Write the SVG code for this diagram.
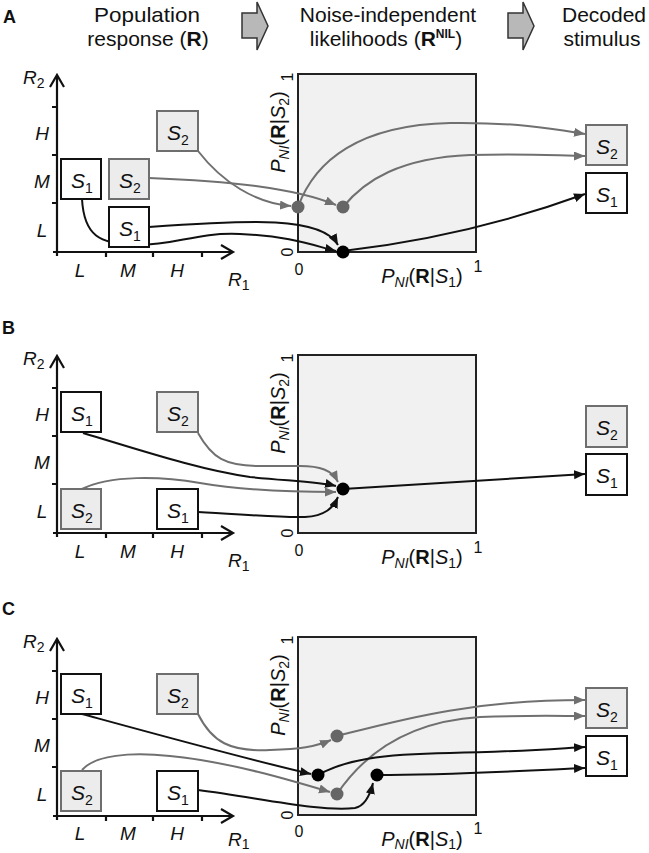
<svg xmlns="http://www.w3.org/2000/svg" width="649" height="853" viewBox="0 0 649 853">
<defs>
<style>
text{font-family:"Liberation Sans",Arial,Helvetica,sans-serif;fill:#111}
.hdr{font-size:21px;text-anchor:middle}
.pl{font-size:18px;font-weight:bold}
.ax{font-size:19px;font-style:italic;text-anchor:middle}
.axl{font-size:19px;font-style:italic}
.sb{font-size:14px;font-style:normal}
.si{font-size:14px;font-style:italic}
.axis{fill:none;stroke:#111;stroke-width:2.2}
.b1{fill:#fff;stroke:#111;stroke-width:2}
.b2{fill:#ececec;stroke:#6e6e6e;stroke-width:2}
.bl{font-size:21px;font-style:italic;text-anchor:middle}
.sq{fill:#f1f1f1;stroke:#222;stroke-width:2}
.tk{font-size:16px;text-anchor:middle}
.pn{font-size:20px;text-anchor:middle}
.blk{fill:none;stroke:#111;stroke-width:2;marker-end:url(#ab)}
.gry{fill:none;stroke:#707070;stroke-width:2;marker-end:url(#ag)}
.dg{fill:#666}
.db{fill:#000}
.ba{fill:#b8b8b8;stroke:#333;stroke-width:1.5;stroke-linejoin:miter}
</style>
<marker id="ab" markerUnits="userSpaceOnUse" markerWidth="12" markerHeight="10" refX="11" refY="4.5" orient="auto"><path d="M0,0 L11,4.5 L0,9 z" fill="#111"/></marker>
<marker id="ag" markerUnits="userSpaceOnUse" markerWidth="12" markerHeight="10" refX="11" refY="4.5" orient="auto"><path d="M0,0 L11,4.5 L0,9 z" fill="#707070"/></marker>
</defs>
<rect width="649" height="853" fill="#fff"/>

<!-- Header -->
<g id="header">
<text class="pl" x="3" y="23">A</text>
<text class="hdr" x="147" y="22" textLength="106" lengthAdjust="spacingAndGlyphs">Population</text>
<text class="hdr" x="148" y="46">response (<tspan font-weight="bold">R</tspan>)</text>
<polygon class="ba" points="242,13 257,13 257,2 268,26 257,50 257,38 242,38"/>
<text class="hdr" x="388" y="22">Noise-independent</text>
<text class="hdr" x="386" y="46">likelihoods (<tspan font-weight="bold">R</tspan><tspan font-weight="bold" font-size="12" dy="-8">NIL</tspan><tspan dy="8">)</tspan></text>
<polygon class="ba" points="508,13 523,13 523,2 534,26 523,50 523,38 508,38"/>
<text class="hdr" x="604" y="22">Decoded</text>
<text class="hdr" x="602" y="46">stimulus</text>
</g>

<text class="pl" x="2" y="334">B</text>
<text class="pl" x="2" y="615">C</text>

<!-- Axes -->
<g id="axesA">
<path class="axis" d="M57,256 V77 M53,252 H231 M52,107 H57 M52,155 H57 M52,203 H57 M106,252 V257 M153,252 V257 M202,252 V257"/>
<path class="axis" stroke-width="2.5" d="M50,87 L57,75 L64,87 M221,245 L233,252 L221,259"/>
<text class="axl" x="23" y="84">R<tspan class="sb" dy="4">2</tspan></text>
<text class="ax" x="42" y="140">H</text><text class="ax" x="42" y="188">M</text><text class="ax" x="42" y="237">L</text>
<text class="ax" x="80" y="277">L</text><text class="ax" x="128" y="277">M</text><text class="ax" x="177" y="277">H</text>
<text class="axl" x="228" y="286">R<tspan class="sb" dy="4">1</tspan></text>
</g>
<g id="axesB" transform="translate(0,281)">
<path class="axis" d="M57,256 V77 M53,252 H231 M52,107 H57 M52,155 H57 M52,203 H57 M106,252 V257 M153,252 V257 M202,252 V257"/>
<path class="axis" stroke-width="2.5" d="M50,87 L57,75 L64,87 M221,245 L233,252 L221,259"/>
<text class="axl" x="23" y="84">R<tspan class="sb" dy="4">2</tspan></text>
<text class="ax" x="42" y="140">H</text><text class="ax" x="42" y="188">M</text><text class="ax" x="42" y="237">L</text>
<text class="ax" x="80" y="277">L</text><text class="ax" x="128" y="277">M</text><text class="ax" x="177" y="277">H</text>
<text class="axl" x="228" y="286">R<tspan class="sb" dy="4">1</tspan></text>
</g>
<g id="axesC" transform="translate(0,564)">
<path class="axis" d="M57,256 V77 M53,252 H231 M52,107 H57 M52,155 H57 M52,203 H57 M106,252 V257 M153,252 V257 M202,252 V257"/>
<path class="axis" stroke-width="2.5" d="M50,87 L57,75 L64,87 M221,245 L233,252 L221,259"/>
<text class="axl" x="23" y="84">R<tspan class="sb" dy="4">2</tspan></text>
<text class="ax" x="42" y="140">H</text><text class="ax" x="42" y="188">M</text><text class="ax" x="42" y="237">L</text>
<text class="ax" x="80" y="276">L</text><text class="ax" x="128" y="276">M</text><text class="ax" x="177" y="276">H</text>
<text class="axl" x="228" y="282">R<tspan class="sb" dy="3">1</tspan></text>
</g>

<!-- Likelihood planes -->
<g id="planeA">
<rect class="sq" x="298" y="74" width="178" height="178"/>
<text class="tk" transform="translate(293,77) rotate(-90)">1</text>
<text class="tk" transform="translate(293,252) rotate(-90)">0</text>
<text class="tk" x="299" y="275">0</text>
<text class="tk" x="478" y="272">1</text>
<text class="pn" x="422" y="283"><tspan font-style="italic">P</tspan><tspan class="si" dy="4">NI</tspan><tspan dy="-4">(</tspan><tspan font-weight="bold">R</tspan>|<tspan font-style="italic">S</tspan><tspan class="sb" dy="4">1</tspan><tspan dy="-4">)</tspan></text>
<text class="pn" transform="translate(285,132) rotate(-90)"><tspan font-style="italic">P</tspan><tspan class="si" dy="4">NI</tspan><tspan dy="-4">(</tspan><tspan font-weight="bold">R</tspan>|<tspan font-style="italic">S</tspan><tspan class="sb" dy="4">2</tspan><tspan dy="-4">)</tspan></text>
</g>
<g id="planeB" transform="translate(0,281)">
<rect class="sq" x="298" y="74" width="178" height="178"/>
<text class="tk" transform="translate(293,77) rotate(-90)">1</text>
<text class="tk" transform="translate(293,252) rotate(-90)">0</text>
<text class="tk" x="299" y="275">0</text>
<text class="tk" x="478" y="272">1</text>
<text class="pn" x="422" y="283"><tspan font-style="italic">P</tspan><tspan class="si" dy="4">NI</tspan><tspan dy="-4">(</tspan><tspan font-weight="bold">R</tspan>|<tspan font-style="italic">S</tspan><tspan class="sb" dy="4">1</tspan><tspan dy="-4">)</tspan></text>
<text class="pn" transform="translate(285,132) rotate(-90)"><tspan font-style="italic">P</tspan><tspan class="si" dy="4">NI</tspan><tspan dy="-4">(</tspan><tspan font-weight="bold">R</tspan>|<tspan font-style="italic">S</tspan><tspan class="sb" dy="4">2</tspan><tspan dy="-4">)</tspan></text>
</g>
<g id="planeC" transform="translate(0,563)">
<rect class="sq" x="298" y="74" width="178" height="178"/>
<text class="tk" transform="translate(293,77) rotate(-90)">1</text>
<text class="tk" transform="translate(293,252) rotate(-90)">0</text>
<text class="tk" x="299" y="274">0</text>
<text class="tk" x="478" y="271">1</text>
<text class="pn" x="422" y="283"><tspan font-style="italic">P</tspan><tspan class="si" dy="3">NI</tspan><tspan dy="-3">(</tspan><tspan font-weight="bold">R</tspan>|<tspan font-style="italic">S</tspan><tspan class="sb" dy="3">1</tspan><tspan dy="-3">)</tspan></text>
<text class="pn" transform="translate(285,132) rotate(-90)"><tspan font-style="italic">P</tspan><tspan class="si" dy="4">NI</tspan><tspan dy="-4">(</tspan><tspan font-weight="bold">R</tspan>|<tspan font-style="italic">S</tspan><tspan class="sb" dy="4">2</tspan><tspan dy="-4">)</tspan></text>
</g>

<!-- Connectors -->
<g id="connectors">
<!-- Panel A -->
<path class="gry" d="M198,151 C222,182 255,203 291,206"/>
<path class="gry" d="M149,178 C230,181 295,188 336,205"/>
<path class="blk" d="M149,227 C250,220 322,216 338,245"/>
<path class="blk" d="M82,199 C84,236 100,244 135,245 C175,246 195,232 240,234 C290,236 315,246 336,251"/>
<path class="gry" d="M298,207 C315,160 360,125 450,123 C520,122 560,130 585,134"/>
<path class="gry" d="M343,207 C365,180 400,158 470,155 C530,153 560,156 585,156"/>
<path class="blk" d="M343,251 C420,242 500,225 585,194"/>
<!-- Panel B -->
<path class="gry" d="M198,433 C212,458 225,466 260,466 L300,466 C320,466 332,470 338,482"/>
<path class="blk" d="M83,433 C140,450 200,470 250,477 C290,481 320,482 336,486"/>
<path class="gry" d="M82,489 C110,475 160,476 200,483 C240,490 290,492 336,492"/>
<path class="blk" d="M198,512 C240,514 280,518 305,517 C325,516 333,508 338,497"/>
<path class="blk" d="M343,489 L585,474"/>
<!-- Panel C -->
<path class="gry" d="M198,714 C212,742 230,752 270,750 C300,749 315,747 331,740"/>
<path class="blk" d="M82,714 C170,738 250,760 311,774"/>
<path class="gry" d="M82,770 C95,755 130,752 170,756 C230,762 290,780 330,792"/>
<path class="blk" d="M198,790 C260,798 320,812 355,808 C365,806 370,795 373,783"/>
<path class="gry" d="M337,736 C400,720 470,700 585,700"/>
<path class="gry" d="M337,794 C360,760 400,722 480,717 C530,715 560,716 585,716"/>
<path class="blk" d="M318,775 C345,760 380,754 450,753 C510,752 550,749 585,747"/>
<path class="blk" d="M377,775 C450,775 520,771 585,768"/>
</g>

<!-- Dots -->
<g id="dotA1"><circle class="dg" cx="298" cy="207" r="6.5"/></g>
<g id="dotA2"><circle class="dg" cx="343" cy="207" r="6.5"/></g>
<g id="dotA3"><circle class="db" cx="343" cy="252" r="6.5"/></g>
<g id="dotB1"><circle class="db" cx="343" cy="489" r="6.5"/></g>
<g id="dotC1"><circle class="dg" cx="337" cy="736" r="6.5"/></g>
<g id="dotC2"><circle class="dg" cx="337" cy="794" r="6.5"/></g>
<g id="dotC3"><circle class="db" cx="318" cy="775" r="6.5"/></g>
<g id="dotC4"><circle class="db" cx="377" cy="775" r="6.5"/></g>

<!-- Panel A boxes -->
<g id="A_s1_LM"><rect class="b1" x="61" y="159" width="40" height="40"/><text class="bl" x="82" y="188">S<tspan class="sb" dy="5">1</tspan></text></g>
<g id="A_s2_MM"><rect class="b2" x="109" y="159" width="40" height="40"/><text class="bl" x="130" y="188">S<tspan class="sb" dy="5">2</tspan></text></g>
<g id="A_s1_ML"><rect class="b1" x="109" y="207" width="40" height="40"/><text class="bl" x="130" y="236">S<tspan class="sb" dy="5">1</tspan></text></g>
<g id="A_s2_HH"><rect class="b2" x="157" y="111" width="41" height="40"/><text class="bl" x="178" y="140">S<tspan class="sb" dy="5">2</tspan></text></g>
<g id="A_out_s2"><rect class="b2" x="586" y="125" width="41" height="40"/><text class="bl" x="607" y="154">S<tspan class="sb" dy="5">2</tspan></text></g>
<g id="A_out_s1"><rect class="b1" x="586" y="173" width="41" height="40"/><text class="bl" x="607" y="202">S<tspan class="sb" dy="5">1</tspan></text></g>

<!-- Panel B boxes -->
<g id="B_s1_LH"><rect class="b1" x="61" y="392" width="40" height="40"/><text class="bl" x="82" y="421">S<tspan class="sb" dy="5">1</tspan></text></g>
<g id="B_s2_HH"><rect class="b2" x="157" y="392" width="41" height="40"/><text class="bl" x="178" y="421">S<tspan class="sb" dy="5">2</tspan></text></g>
<g id="B_s2_LL"><rect class="b2" x="61" y="489" width="40" height="40"/><text class="bl" x="82" y="518">S<tspan class="sb" dy="5">2</tspan></text></g>
<g id="B_s1_HL"><rect class="b1" x="157" y="489" width="41" height="40"/><text class="bl" x="178" y="518">S<tspan class="sb" dy="5">1</tspan></text></g>
<g id="B_out_s2"><rect class="b2" x="586" y="406" width="41" height="41"/><text class="bl" x="607" y="435">S<tspan class="sb" dy="5">2</tspan></text></g>
<g id="B_out_s1"><rect class="b1" x="586" y="454" width="41" height="41"/><text class="bl" x="607" y="483">S<tspan class="sb" dy="5">1</tspan></text></g>

<!-- Panel C boxes -->
<g id="C_s1_LH"><rect class="b1" x="61" y="674" width="40" height="40"/><text class="bl" x="82" y="703">S<tspan class="sb" dy="5">1</tspan></text></g>
<g id="C_s2_HH"><rect class="b2" x="157" y="674" width="41" height="40"/><text class="bl" x="178" y="703">S<tspan class="sb" dy="5">2</tspan></text></g>
<g id="C_s2_LL"><rect class="b2" x="61" y="771" width="40" height="40"/><text class="bl" x="82" y="800">S<tspan class="sb" dy="5">2</tspan></text></g>
<g id="C_s1_HL"><rect class="b1" x="157" y="771" width="41" height="40"/><text class="bl" x="178" y="800">S<tspan class="sb" dy="5">1</tspan></text></g>
<g id="C_out_s2"><rect class="b2" x="586" y="688" width="41" height="40"/><text class="bl" x="607" y="717">S<tspan class="sb" dy="5">2</tspan></text></g>
<g id="C_out_s1"><rect class="b1" x="586" y="736" width="41" height="40"/><text class="bl" x="607" y="765">S<tspan class="sb" dy="5">1</tspan></text></g>
</svg>
